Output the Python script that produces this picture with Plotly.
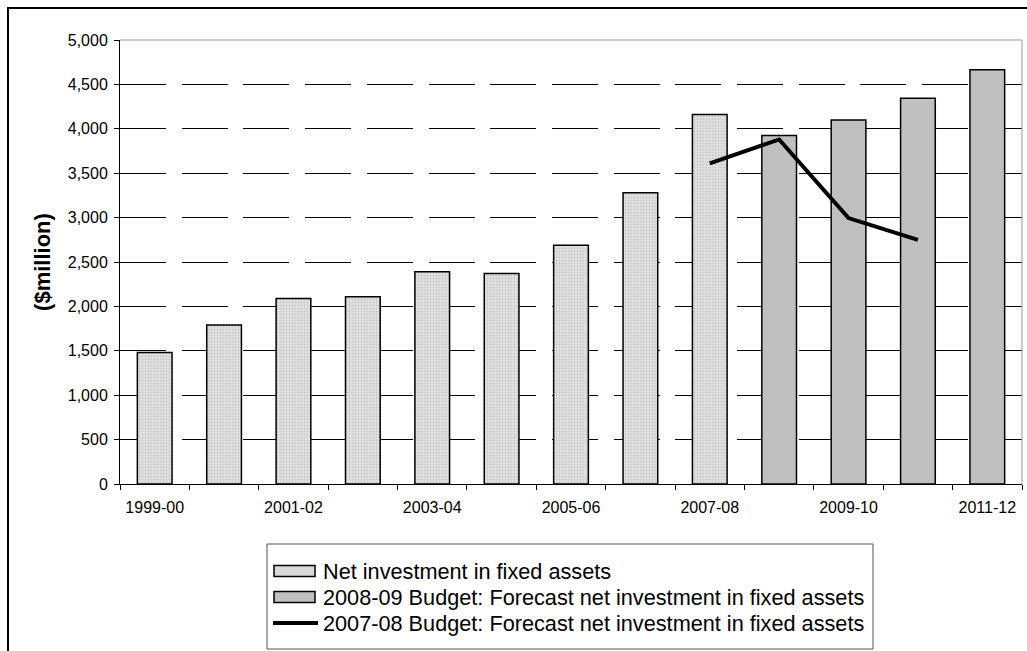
import plotly.graph_objects as go

# Financial years shown on the horizontal axis
years = ["1999-00", "2000-01", "2001-02", "2002-03", "2003-04", "2004-05",
         "2005-06", "2006-07", "2007-08", "2008-09", "2009-10", "2010-11", "2011-12"]

# Actual net investment in fixed assets ($million)
actual_years = years[:9]
actual_values = [1480, 1790, 2090, 2110, 2390, 2370, 2690, 3280, 4160]

# 2008-09 Budget forecast ($million)
forecast_0809_years = years[9:]
forecast_0809_values = [3925, 4100, 4345, 4665]

# 2007-08 Budget forecast ($million)
forecast_0708_years = years[8:12]
forecast_0708_values = [3610, 3880, 2995, 2750]

y_ticks = list(range(0, 5001, 500))

pos = {y: i for i, y in enumerate(years)}

W, H = 1027, 651
ML, MR, MT, MB = 120, 5, 40, 167
PW, PH = W - ML - MR, H - MT - MB


def px_x(x):
    """Pixel column -> paper x."""
    return (x - ML) / PW


def px_y(y):
    """Pixel row -> paper y."""
    return (H - MB - y) / PH


fig = go.Figure()

actual_name = "Net investment in fixed assets"
f0809_name = "2008-09 Budget: Forecast net investment in fixed assets"
f0708_name = "2007-08 Budget: Forecast net investment in fixed assets"

fig.add_trace(go.Bar(
    x=[pos[y] for y in actual_years], y=actual_values,
    name=actual_name, width=0.5, showlegend=False,
    marker=dict(color="#dddddd",
                line=dict(color="#000000", width=1.5),
                pattern=dict(shape=".", fgcolor="#a8a8a8", bgcolor="#e2e2e2",
                             size=3, solidity=0.3)),
))
fig.add_trace(go.Bar(
    x=[pos[y] for y in forecast_0809_years], y=forecast_0809_values,
    name=f0809_name, width=0.5, showlegend=False,
    marker=dict(color="#c0c0c0", line=dict(color="#000000", width=1.5)),
))
fig.add_trace(go.Scatter(
    x=[pos[y] for y in forecast_0708_years], y=forecast_0708_values,
    name=f0708_name, mode="lines", showlegend=False,
    line=dict(color="#000000", width=4),
))

# Legend box drawn by hand so the swatches can be wide rectangles
legend_rows = [571, 597, 623]
shapes = [
    # grey top and right edges of the plotting area
    dict(type="line", xref="paper", yref="paper", x0=0, x1=1, y0=1, y1=1,
         line=dict(color="#9a9a9a", width=1)),
    dict(type="line", xref="paper", yref="paper", x0=1, x1=1, y0=0, y1=1,
         line=dict(color="#9a9a9a", width=1)),
    # outer chart frame
    dict(type="rect", xref="paper", yref="paper",
         x0=px_x(8), x1=px_x(1100), y0=px_y(720), y1=px_y(8),
         line=dict(color="#000000", width=2), layer="below"),
    # legend frame
    dict(type="rect", xref="paper", yref="paper",
         x0=px_x(267), x1=px_x(873), y0=px_y(649), y1=px_y(544),
         line=dict(color="#555555", width=1), fillcolor="#ffffff"),
    # legend swatches
    dict(type="rect", xref="paper", yref="paper",
         x0=px_x(274), x1=px_x(315), y0=px_y(legend_rows[0] + 5.5), y1=px_y(legend_rows[0] - 5.5),
         line=dict(color="#000000", width=1.5), fillcolor="#d9d9d9"),
    dict(type="rect", xref="paper", yref="paper",
         x0=px_x(274), x1=px_x(315), y0=px_y(legend_rows[1] + 5.5), y1=px_y(legend_rows[1] - 5.5),
         line=dict(color="#000000", width=1.5), fillcolor="#c0c0c0"),
    dict(type="line", xref="paper", yref="paper",
         x0=px_x(273), x1=px_x(318), y0=px_y(legend_rows[2]), y1=px_y(legend_rows[2]),
         line=dict(color="#000000", width=4)),
]

annotations = [
    dict(text=name, xref="paper", yref="paper", x=px_x(321), y=px_y(row),
         xanchor="left", yanchor="middle", showarrow=False,
         font=dict(size=21.7, color="#000000"))
    for name, row in zip([actual_name, f0809_name, f0708_name], legend_rows)
]

fig.update_layout(
    width=W, height=H,
    margin=dict(l=ML, r=MR, t=MT, b=MB),
    paper_bgcolor="#ffffff", plot_bgcolor="#ffffff",
    font=dict(family="Liberation Sans, Arial, sans-serif", size=16, color="#000000"),
    barmode="overlay",
    showlegend=False,
    xaxis=dict(
        range=[-0.5, 12.5],
        tickmode="array",
        tickvals=list(range(0, 13, 2)),
        ticktext=years[::2],
        ticks="", showgrid=False, zeroline=False,
        showline=True, linecolor="#000000", linewidth=1,
        tickfont=dict(size=16),
        ticklabelstandoff=9,
        minor=dict(tick0=-0.5, dtick=1, ticks="outside", ticklen=5,
                   tickcolor="#000000", showgrid=False),
    ),
    yaxis=dict(
        range=[0, 5000],
        tickmode="array", tickvals=y_ticks,
        ticktext=[f"{v:,}" for v in y_ticks],
        ticks="outside", ticklen=5, tickcolor="#000000",
        ticklabelstandoff=3,
        showline=True, linecolor="#000000", linewidth=1,
        showgrid=True, gridcolor="#000000", gridwidth=1,
        griddash="46px,15.7px",
        zeroline=False,
        tickfont=dict(size=16),
        title=dict(text="<b>($million)</b>", font=dict(size=22), standoff=11),
    ),
    shapes=shapes,
    annotations=annotations,
)

fig.write_html("out.html")
